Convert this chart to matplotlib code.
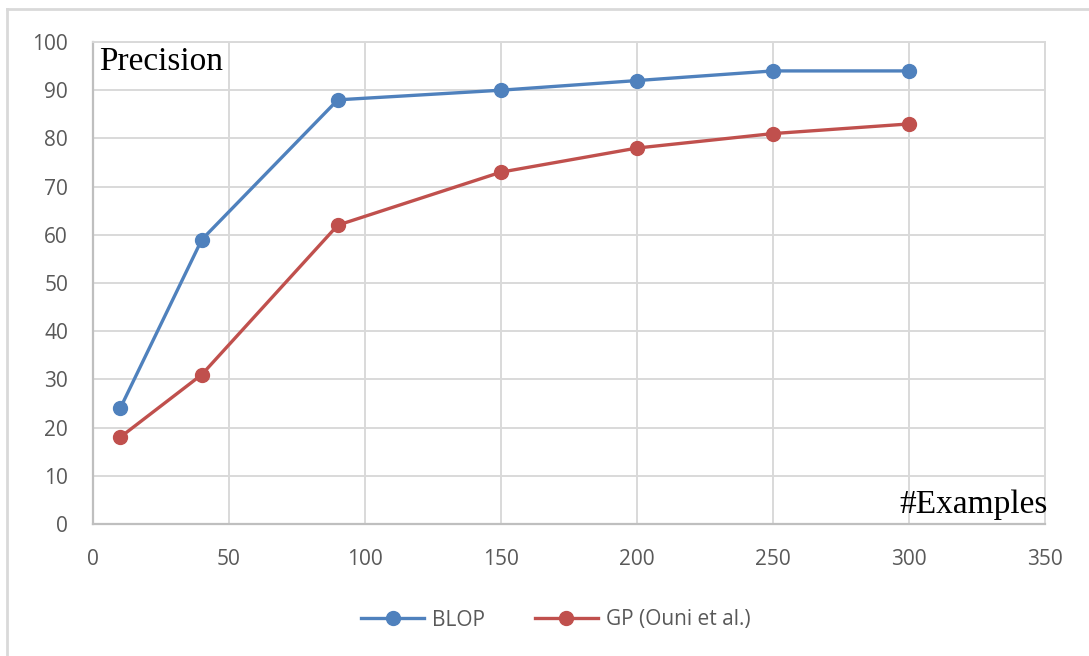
import matplotlib.pyplot as plt
from matplotlib.lines import Line2D

examples = [10, 40, 90, 150, 200, 250, 300]
blop = [24, 59, 88, 90, 92, 94, 94]
gp_ouni = [18, 31, 62, 73, 78, 81, 83]

x_ticks = [0, 50, 100, 150, 200, 250, 300, 350]
y_ticks = [0, 10, 20, 30, 40, 50, 60, 70, 80, 90, 100]

BLUE = "#4F81BD"
RED = "#C0504D"
GRID = "#D9D9D9"
TXT = "#595959"

fig = plt.figure(figsize=(10.89, 6.56), dpi=100)
ax = fig.add_axes([93 / 1089, 1 - 524 / 656, (1045 - 93) / 1089, (524 - 42) / 656])

ax.plot(examples, blop, color=BLUE, lw=2.4, marker="o", ms=10, label="BLOP", zorder=3)
ax.plot(examples, gp_ouni, color=RED, lw=2.4, marker="o", ms=10, label="GP (Ouni et al.)", zorder=3)

ax.set_xlim(0, 350)
ax.set_ylim(0, 100)
ax.set_xticks(x_ticks)
ax.set_yticks(y_ticks)
ax.grid(True, color=GRID, lw=1.4)
ax.set_axisbelow(True)
for side in ["top", "right"]:
    ax.spines[side].set_color(GRID)
    ax.spines[side].set_linewidth(1.4)
for side in ["bottom", "left"]:
    ax.spines[side].set_color("#BFBFBF")
    ax.spines[side].set_linewidth(1.6)
ax.tick_params(length=0, labelsize=15, labelcolor=TXT)
ax.tick_params(axis="y", pad=18)
ax.tick_params(axis="x", pad=18)
for lbl in ax.get_xticklabels() + ax.get_yticklabels():
    lbl.set_family("Open Sans")

ax.text(0.006, 0.99, "Precision", transform=ax.transAxes, ha="left", va="top",
        family="Liberation Serif", fontsize=24, color="black")
ax.text(1.003, 0.008, "#Examples", transform=ax.transAxes, ha="right", va="bottom",
        family="Liberation Serif", fontsize=24, color="black")

handles = [
    Line2D([], [], color=BLUE, lw=2.4, marker="o", ms=10),
    Line2D([], [], color=RED, lw=2.4, marker="o", ms=10),
]
fig.legend(handles, ["BLOP", "GP (Ouni et al.)"], loc="center", bbox_to_anchor=(556 / 1089, 1 - 620 / 656),
           ncol=2, frameon=False, handlelength=3.0, handletextpad=0.4, columnspacing=2.4,
           prop={"family": "Open Sans", "size": 15}, labelcolor=TXT)

# chart-area border
fig.add_artist(Line2D([7 / 1089, 7 / 1089], [0, 1 - 9 / 656], transform=fig.transFigure, color="#D9D9D9", lw=2))
fig.add_artist(Line2D([7 / 1089, 1], [1 - 9 / 656, 1 - 9 / 656], transform=fig.transFigure, color="#D9D9D9", lw=2))

fig.savefig("out.png", dpi=100)
